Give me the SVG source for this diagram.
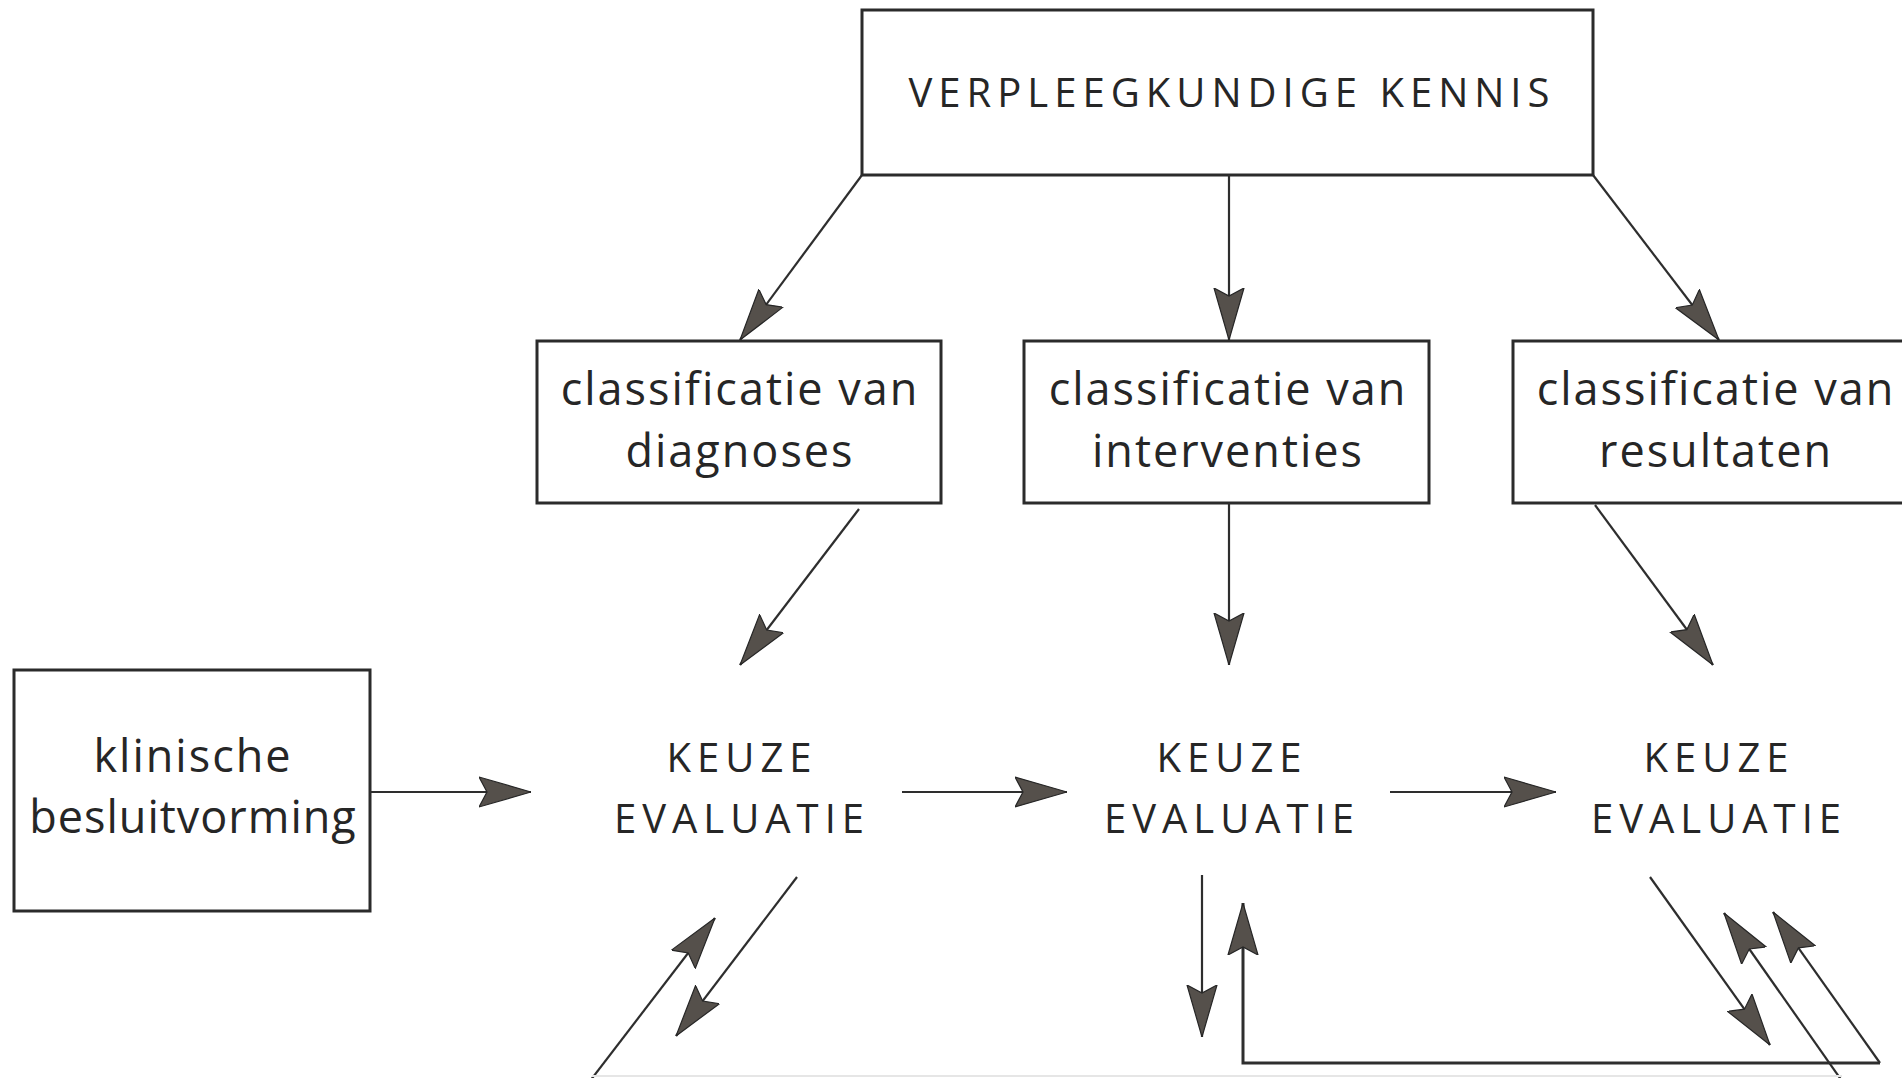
<svg xmlns="http://www.w3.org/2000/svg" width="1902" height="1078" viewBox="0 0 1902 1078">
<defs>
<style>
.box{fill:#fff;stroke:#2b2b2b;stroke-width:3}
.t{font-family:"Open Sans","Noto Sans","DejaVu Sans",sans-serif;fill:#262626;text-anchor:middle}
.lc{font-size:45px;letter-spacing:2px}
.uc{font-size:40px;letter-spacing:6px}
.ln{fill:none;stroke:#2e2e2e;stroke-width:2.2}
.thick{stroke-width:3}
</style>
<marker id="ah" viewBox="0 0 52 32" refX="52" refY="16" markerWidth="52" markerHeight="32" markerUnits="userSpaceOnUse" orient="auto">
<path d="M0,1 L52,16 L0,31 L8,16 Z" fill="#55504b" stroke="#262626" stroke-width="1.2" stroke-linejoin="miter"/>
</marker>
</defs>
<rect width="1902" height="1078" fill="#fff"/>

<g id="verpleegkundige-kennis">
<rect class="box" x="862" y="10" width="731" height="165"/>
<text class="t uc" x="1232" y="107">VERPLEEGKUNDIGE KENNIS</text>
</g>

<g id="classificatie-diagnoses">
<rect class="box" x="537" y="341" width="404" height="162"/>
<text class="t lc" x="740" y="405">classificatie van</text>
<text class="t lc" x="740" y="467">diagnoses</text>
</g>

<g id="classificatie-interventies">
<rect class="box" x="1024" y="341" width="405" height="162"/>
<text class="t lc" x="1228" y="405">classificatie van</text>
<text class="t lc" x="1228" y="467">interventies</text>
</g>

<g id="classificatie-resultaten">
<rect class="box" x="1513" y="341" width="410" height="162"/>
<text class="t lc" x="1716" y="405">classificatie van</text>
<text class="t lc" x="1716" y="467">resultaten</text>
</g>

<g id="klinische-besluitvorming">
<rect class="box" x="14" y="670" width="356" height="241"/>
<text class="t lc" x="193" y="772">klinische</text>
<text class="t lc" x="193" y="833" style="letter-spacing:1px">besluitvorming</text>
</g>

<g id="keuze-evaluatie-1">
<text class="t uc" x="742" y="772">KEUZE</text>
<text class="t uc" x="742" y="833">EVALUATIE</text>
</g>

<g id="keuze-evaluatie-2">
<text class="t uc" x="1232" y="772">KEUZE</text>
<text class="t uc" x="1232" y="833">EVALUATIE</text>
</g>

<g id="keuze-evaluatie-3">
<text class="t uc" x="1719" y="772">KEUZE</text>
<text class="t uc" x="1719" y="833">EVALUATIE</text>
</g>

<g id="connectors">
<line class="ln" x1="862" y1="175" x2="740" y2="340" marker-end="url(#ah)"/>
<line class="ln" x1="1229" y1="175" x2="1229" y2="340" marker-end="url(#ah)"/>
<line class="ln" x1="1593" y1="175" x2="1719" y2="340" marker-end="url(#ah)"/>
<line class="ln" x1="859" y1="509" x2="740" y2="665" marker-end="url(#ah)"/>
<line class="ln" x1="1229" y1="503" x2="1229" y2="665" marker-end="url(#ah)"/>
<line class="ln" x1="1595" y1="505" x2="1713" y2="665" marker-end="url(#ah)"/>
<line class="ln" x1="370" y1="792" x2="531" y2="792" marker-end="url(#ah)"/>
<line class="ln" x1="902" y1="792" x2="1067" y2="792" marker-end="url(#ah)"/>
<line class="ln" x1="1390" y1="792" x2="1556" y2="792" marker-end="url(#ah)"/>
<line class="ln" x1="797" y1="877" x2="676" y2="1036" marker-end="url(#ah)"/>
<line class="ln" x1="590" y1="1081" x2="715" y2="918" marker-end="url(#ah)"/>
<line class="ln" x1="1202" y1="875" x2="1202" y2="1037" marker-end="url(#ah)"/>
<path class="ln thick" d="M1880,1063 L1243,1063 L1243,903" marker-end="url(#ah)"/>
<line class="ln" x1="1880" y1="1063" x2="1773" y2="912" marker-end="url(#ah)"/>
<line class="ln" x1="1842" y1="1081" x2="1724" y2="913" marker-end="url(#ah)"/>
<line class="ln" x1="1650" y1="877" x2="1770" y2="1045" marker-end="url(#ah)"/>
<line x1="592" y1="1076" x2="1842" y2="1076" stroke="#e6e6e6" stroke-width="2"/>
</g>
</svg>
